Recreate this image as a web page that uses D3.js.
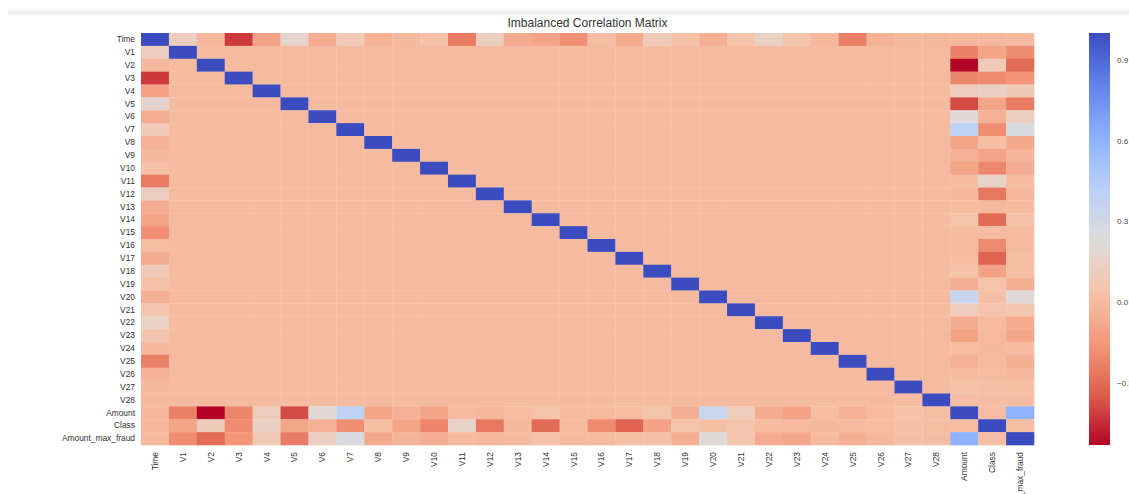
<!DOCTYPE html>
<html>
<head>
<meta charset="utf-8">
<script src="https://cdn.jsdelivr.net/npm/d3@7"></script>
<style>
  html, body { margin: 0; padding: 0; background: #ffffff; }
  svg { display: block; }
  text { font-family: "Liberation Sans", Arial, Helvetica, sans-serif; }
</style>
</head>
<body>
<svg id="chart" width="1129" height="494"></svg>
<script>
// Variable names, in matrix order
const labels = ["Time"]
  .concat(d3.range(1, 29).map(i => "V" + i))
  .concat(["Amount", "Class", "Amount_max_fraud"]);

// Correlation of each V1..V28 with Time, Amount, Class and Amount_max_fraud
const vNames = d3.range(1, 29).map(i => "V" + i);
const corrTime = [0.117, -0.011, -0.420, -0.105, 0.173, -0.063, 0.085, -0.037, -0.009, 0.031,
                  -0.248, 0.124, -0.066, -0.099, -0.183, 0.012, -0.073, 0.090, 0.029, -0.051,
                  0.045, 0.144, 0.051, -0.016, -0.233, -0.041, -0.005, -0.009];
const corrAmount = [-0.228, -0.531, -0.211, 0.099, -0.386, 0.216, 0.397, -0.103, -0.044, -0.102,
                    0.000, -0.010, 0.005, 0.034, -0.003, -0.004, 0.007, 0.036, -0.056, 0.339,
                    0.106, -0.065, -0.113, 0.005, -0.048, -0.003, 0.029, 0.010];
const corrClass = [-0.101, 0.091, -0.193, 0.133, -0.095, -0.044, -0.187, 0.020, -0.098, -0.217,
                   0.155, -0.261, -0.005, -0.303, -0.004, -0.197, -0.326, -0.111, 0.035, 0.020,
                   0.040, 0.001, -0.003, -0.007, 0.003, 0.005, 0.018, 0.010];
const corrMaxFraud = [-0.190, -0.300, -0.160, 0.080, -0.250, 0.120, 0.260, -0.080, -0.030, -0.060,
                      0.000, -0.010, 0.000, 0.030, 0.000, 0.000, 0.010, 0.020, -0.050, 0.220,
                      0.060, -0.070, -0.090, 0.000, -0.050, -0.010, 0.020, 0.010];

// Pairwise correlations among Time, Amount, Class, Amount_max_fraud
const pairs = [
  ["Time", "Amount", -0.011],
  ["Time", "Class", -0.012],
  ["Time", "Amount_max_fraud", -0.005],
  ["Amount", "Class", 0.006],
  ["Amount", "Amount_max_fraud", 0.610],
  ["Class", "Amount_max_fraud", 0.010]
];

const cbTicks = [-0.3, 0.0, 0.3, 0.6, 0.9];

// ---- build the symmetric matrix ----
const idx = new Map(labels.map((l, i) => [l, i]));
const n = labels.length;
const M = d3.range(n).map(i => d3.range(n).map(j => (i === j ? 1 : 0)));
function setPair(a, b, v) { const i = idx.get(a), j = idx.get(b); M[i][j] = v; M[j][i] = v; }
vNames.forEach((v, k) => {
  setPair(v, "Time", corrTime[k]);
  setPair(v, "Amount", corrAmount[k]);
  setPair(v, "Class", corrClass[k]);
  setPair(v, "Amount_max_fraud", corrMaxFraud[k]);
});
pairs.forEach(([a, b, v]) => setPair(a, b, v));

const cells = [];
for (let i = 0; i < n; i++) for (let j = 0; j < n; j++) cells.push({ row: labels[i], col: labels[j], value: M[i][j] });

// ---- coolwarm colormap (0 = blue, 1 = red) ----
const coolwarm = d3.piecewise(d3.interpolateRgb, [
  "#3b4cc0", "#6282ea", "#8db0fe", "#b8d0f9", "#dddcdc",
  "#f5c4ac", "#f49a7b", "#de604d", "#b40426"
]);
const vmin = d3.min(cells, d => d.value);
const vmax = d3.max(cells, d => d.value);
const color = d3.scaleSequential(coolwarm).domain([vmax, vmin]);

// ---- layout ----
const svg = d3.select("#chart");
const plot = { left: 141, top: 33, right: 1034, bottom: 445 };

// faint page edge at the top
const defs = svg.append("defs");
const edge = defs.append("linearGradient").attr("id", "edge").attr("x1", 0).attr("x2", 0).attr("y1", 0).attr("y2", 1);
edge.append("stop").attr("offset", "0%").attr("stop-color", "#ffffff");
edge.append("stop").attr("offset", "55%").attr("stop-color", "#ededed");
edge.append("stop").attr("offset", "100%").attr("stop-color", "#ffffff");
svg.append("rect").attr("x", 8).attr("y", 8).attr("width", 1121).attr("height", 9).attr("fill", "url(#edge)");

const x = d3.scaleBand().domain(labels).range([plot.left, plot.right]);
const y = d3.scaleBand().domain(labels).range([plot.top, plot.bottom]);

svg.append("g")
  .selectAll("rect")
  .data(cells)
  .join("rect")
  .attr("x", d => x(d.col))
  .attr("y", d => y(d.row))
  .attr("width", x.bandwidth() + 0.3)
  .attr("height", y.bandwidth() + 0.3)
  .attr("fill", d => color(d.value));

// title
svg.append("text")
  .attr("x", (plot.left + plot.right) / 2)
  .attr("y", 27)
  .attr("text-anchor", "middle")
  .attr("font-size", 12)
  .attr("fill", "#333")
  .text("Imbalanced Correlation Matrix");

// y axis
const yAxis = svg.append("g")
  .attr("transform", `translate(${plot.left - 1},0)`)
  .call(d3.axisLeft(y).tickSize(0).tickPadding(5));
yAxis.select(".domain").remove();
yAxis.selectAll("text")
  .attr("font-size", 8.4)
  .attr("font-family", "'Liberation Sans', Arial, sans-serif")
  .attr("fill", "#333");

// x axis with vertical labels
const xAxis = svg.append("g")
  .attr("transform", `translate(0,${plot.bottom})`)
  .call(d3.axisBottom(x).tickSize(0).tickPadding(0));
xAxis.select(".domain").remove();
xAxis.selectAll("text")
  .attr("font-size", 8.4)
  .attr("font-family", "'Liberation Sans', Arial, sans-serif")
  .attr("fill", "#333")
  .attr("text-anchor", "end")
  .attr("dy", null)
  .attr("y", 0)
  .attr("transform", "translate(0,7) rotate(-90)")
  .attr("dominant-baseline", "central");

// colorbar
const cb = { x: 1089, w: 21, top: plot.top, bottom: plot.bottom };
const grad = defs.append("linearGradient").attr("id", "cbgrad")
  .attr("x1", 0).attr("x2", 0).attr("y1", 1).attr("y2", 0);
d3.range(0, 1.0001, 0.02).forEach(t => {
  grad.append("stop")
    .attr("offset", (t * 100) + "%")
    .attr("stop-color", color(vmin + t * (vmax - vmin)));
});
svg.append("rect")
  .attr("x", cb.x).attr("y", cb.top)
  .attr("width", cb.w).attr("height", cb.bottom - cb.top)
  .attr("fill", "url(#cbgrad)");

const cbScale = d3.scaleLinear().domain([vmin, vmax]).range([cb.bottom, cb.top]);
const cbAxis = svg.append("g")
  .attr("transform", `translate(${cb.x + cb.w},0)`)
  .call(d3.axisRight(cbScale).tickValues(cbTicks).tickSize(0).tickPadding(7).tickFormat(d3.format(".1f")));
cbAxis.select(".domain").remove();
cbAxis.selectAll("text")
  .attr("font-size", 8)
  .attr("font-family", "'Liberation Sans', Arial, sans-serif")
  .attr("fill", "#444");
</script>
</body>
</html>
